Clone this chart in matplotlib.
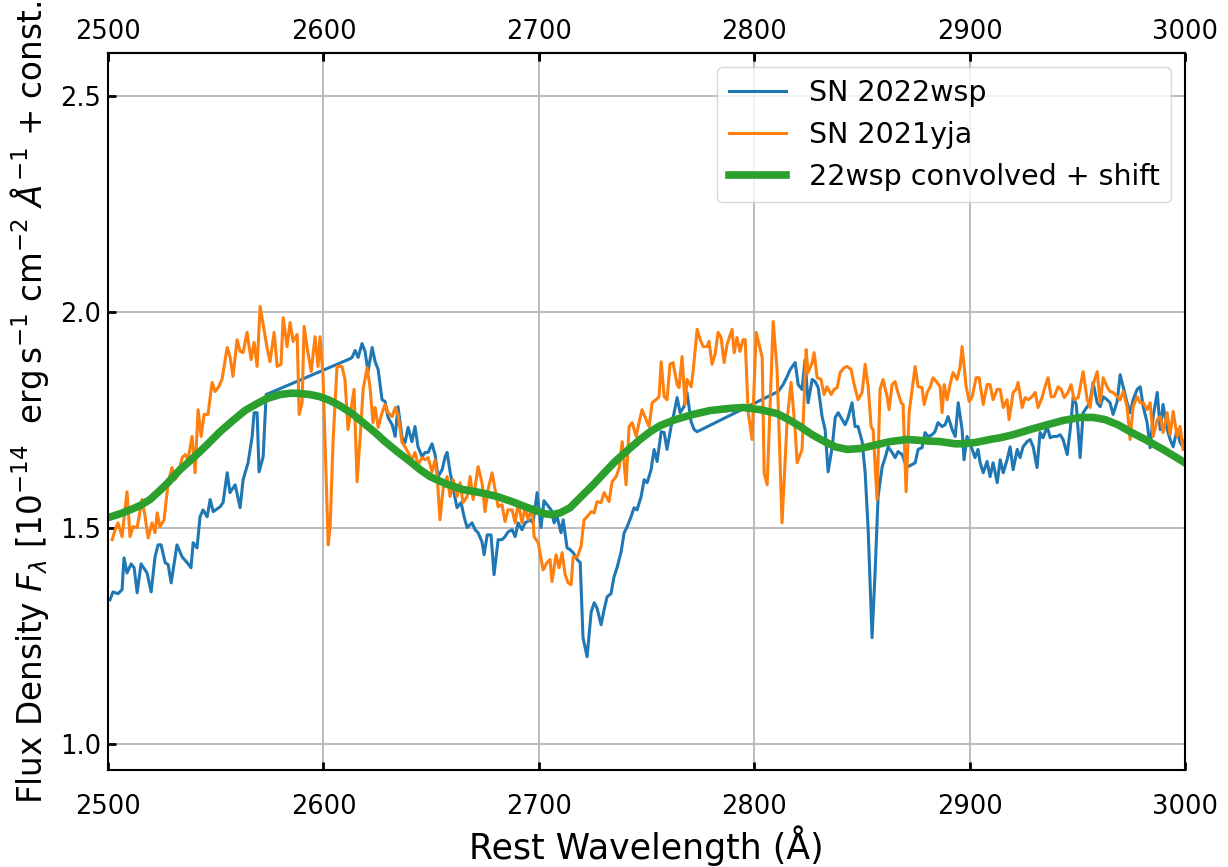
import matplotlib
matplotlib.use("Agg")
import matplotlib.pyplot as plt

# SN 2022wsp (rest wavelength in A, flux + const)
wsp_wave = [
    2500.9, 2502.3, 2504.6, 2506.5, 2507.4, 2508.8, 2510.7, 2512.1, 2513.5, 2515.3,
    2518.1, 2520.0, 2521.8, 2523.2, 2524.6, 2526.5, 2527.9, 2529.3, 2532.0, 2534.4,
    2536.7, 2538.5, 2539.5, 2541.3, 2542.7, 2544.1, 2546.0, 2547.4, 2548.8, 2552.0,
    2553.4, 2555.3, 2556.6, 2559.0, 2561.3, 2562.7, 2565.0, 2566.9, 2567.8, 2569.2,
    2570.1, 2572.0, 2573.4, 2612.4, 2613.3, 2614.7, 2616.1, 2617.9, 2619.3, 2620.7,
    2622.6, 2624.0, 2625.4, 2627.2, 2628.6, 2630.0, 2631.9, 2633.3, 2634.6, 2636.5,
    2637.9, 2639.3, 2641.1, 2642.5, 2643.9, 2645.8, 2647.2, 2648.6, 2650.4, 2651.8,
    2653.2, 2655.1, 2656.5, 2657.4, 2658.8, 2660.6, 2662.0, 2663.9, 2665.3, 2666.7,
    2669.0, 2670.4, 2671.8, 2673.6, 2674.6, 2676.0, 2677.8, 2679.2, 2681.1, 2682.9,
    2684.3, 2685.7, 2687.6, 2689.0, 2690.4, 2692.2, 2693.6, 2696.0, 2697.3, 2699.2,
    2701.0, 2702.4, 2703.8, 2705.7, 2707.1, 2708.5, 2710.3, 2711.3, 2713.1, 2714.5,
    2715.9, 2717.8, 2719.2, 2720.5, 2722.4, 2724.3, 2725.7, 2727.0, 2728.9, 2730.3,
    2731.7, 2733.5, 2734.9, 2736.3, 2738.2, 2739.6, 2741.0, 2742.8, 2744.2, 2745.6,
    2747.5, 2748.9, 2750.3, 2752.1, 2753.5, 2754.9, 2756.8, 2758.2, 2759.5, 2761.4,
    2762.8, 2764.2, 2765.6, 2767.4, 2768.8, 2770.7, 2772.1, 2773.5, 2811.1, 2813.4,
    2815.3, 2816.7, 2819.0, 2820.4, 2822.2, 2823.6, 2825.0, 2826.9, 2828.3, 2829.7,
    2831.5, 2832.9, 2834.3, 2836.2, 2837.6, 2839.0, 2840.8, 2842.2, 2843.6, 2845.4,
    2846.8, 2848.2, 2850.1, 2851.5, 2852.9, 2854.7, 2856.1, 2857.5, 2859.4, 2860.8,
    2862.2, 2864.0, 2865.4, 2866.8, 2868.7, 2870.0, 2871.4, 2873.3, 2874.7, 2876.1,
    2877.9, 2879.3, 2880.7, 2882.6, 2883.9, 2885.3, 2887.2, 2888.6, 2890.0, 2891.9,
    2893.3, 2894.7, 2896.5, 2897.4, 2898.8, 2901.2, 2902.5, 2903.9, 2904.9, 2906.3,
    2908.1, 2909.5, 2910.9, 2912.8, 2914.2, 2915.6, 2917.4, 2918.8, 2920.2, 2922.1,
    2923.4, 2924.8, 2926.7, 2928.1, 2929.5, 2931.3, 2932.7, 2934.1, 2936.0, 2937.4,
    2938.8, 2940.6, 2942.0, 2943.4, 2945.3, 2946.7, 2948.1, 2949.5, 2951.3, 2952.7,
    2954.6, 2955.9, 2957.3, 2959.2, 2960.6, 2962.0, 2963.8, 2965.2, 2966.6, 2968.5,
    2969.9, 2971.3, 2973.1, 2974.5, 2975.9, 2977.8, 2979.2, 2980.6, 2982.4, 2983.8,
    2985.2, 2987.1, 2988.5, 2989.8, 2991.7, 2993.1, 2994.5, 2996.3, 2997.7, 2999.1,
    3000.0,
]
wsp_flux = [
    1.334, 1.352, 1.348, 1.357, 1.431, 1.396, 1.417, 1.408, 1.350, 1.417,
    1.396, 1.352, 1.433, 1.461, 1.461, 1.420, 1.415, 1.373, 1.461, 1.433,
    1.420, 1.408, 1.466, 1.454, 1.526, 1.542, 1.526, 1.566, 1.538, 1.549,
    1.559, 1.628, 1.582, 1.600, 1.547, 1.612, 1.651, 1.712, 1.767, 1.767,
    1.630, 1.665, 1.809, 1.892, 1.895, 1.911, 1.895, 1.927, 1.909, 1.862,
    1.918, 1.885, 1.867, 1.797, 1.793, 1.756, 1.739, 1.712, 1.781, 1.709,
    1.698, 1.733, 1.700, 1.735, 1.688, 1.665, 1.675, 1.675, 1.695, 1.670,
    1.619, 1.635, 1.665, 1.675, 1.630, 1.582, 1.547, 1.559, 1.526, 1.501,
    1.512, 1.496, 1.489, 1.468, 1.438, 1.484, 1.484, 1.392, 1.473, 1.473,
    1.480, 1.491, 1.496, 1.480, 1.512, 1.496, 1.512, 1.519, 1.512, 1.582,
    1.501, 1.563, 1.554, 1.542, 1.512, 1.526, 1.489, 1.519, 1.454, 1.450,
    1.443, 1.427, 1.420, 1.246, 1.202, 1.306, 1.327, 1.315, 1.276, 1.311,
    1.341, 1.348, 1.387, 1.408, 1.445, 1.489, 1.503, 1.526, 1.547, 1.542,
    1.573, 1.612, 1.605, 1.635, 1.682, 1.654, 1.723, 1.721, 1.682, 1.735,
    1.767, 1.802, 1.767, 1.781, 1.814, 1.746, 1.728, 1.723, 1.816, 1.832,
    1.851, 1.867, 1.883, 1.832, 1.821, 1.890, 1.790, 1.844, 1.839, 1.825,
    1.758, 1.728, 1.630, 1.688, 1.756, 1.767, 1.751, 1.739, 1.756, 1.790,
    1.735, 1.735, 1.700, 1.628, 1.496, 1.246, 1.396, 1.573, 1.642, 1.663,
    1.688, 1.675, 1.663, 1.677, 1.670, 1.651, 1.642, 1.647, 1.651, 1.682,
    1.686, 1.721, 1.712, 1.716, 1.723, 1.744, 1.735, 1.739, 1.758, 1.728,
    1.712, 1.790, 1.728, 1.658, 1.712, 1.682, 1.663, 1.682, 1.651, 1.628,
    1.654, 1.619, 1.651, 1.605, 1.658, 1.628, 1.658, 1.688, 1.635, 1.682,
    1.663, 1.688, 1.700, 1.705, 1.688, 1.640, 1.721, 1.709, 1.735, 1.709,
    1.712, 1.712, 1.716, 1.705, 1.670, 1.728, 1.804, 1.786, 1.663, 1.767,
    1.781, 1.790, 1.837, 1.790, 1.781, 1.804, 1.797, 1.790, 1.763, 1.793,
    1.855, 1.827, 1.790, 1.767, 1.797, 1.821, 1.827, 1.781, 1.744, 1.686,
    1.758, 1.814, 1.728, 1.786, 1.728, 1.705, 1.688, 1.728, 1.698, 1.688,
    1.705,
]

# SN 2021yja
yja_wave = [
    2501.9, 2503.3, 2504.6, 2506.5, 2508.8, 2510.2, 2511.6, 2513.5, 2515.8, 2517.2,
    2518.6, 2520.4, 2521.8, 2522.8, 2524.1, 2526.0, 2527.9, 2529.7, 2531.1, 2532.5,
    2534.4, 2535.8, 2537.1, 2539.0, 2540.4, 2541.8, 2543.2, 2544.6, 2546.4, 2548.3,
    2549.7, 2551.1, 2552.9, 2555.3, 2556.6, 2558.0, 2559.9, 2561.3, 2562.7, 2564.5,
    2566.4, 2567.8, 2569.2, 2570.6, 2572.0, 2573.8, 2575.2, 2577.1, 2578.5, 2580.3,
    2581.3, 2583.1, 2584.5, 2585.9, 2587.8, 2588.7, 2590.1, 2591.0, 2592.4, 2594.3,
    2596.1, 2597.5, 2598.4, 2599.8, 2602.2, 2603.1, 2604.5, 2606.3, 2608.6, 2610.0,
    2611.4, 2613.3, 2614.2, 2615.6, 2617.5, 2618.4, 2620.3, 2621.6, 2623.0, 2624.0,
    2625.4, 2627.2, 2628.6, 2630.0, 2631.9, 2633.3, 2634.6, 2636.5, 2637.9, 2639.3,
    2641.1, 2642.5, 2643.9, 2645.8, 2647.2, 2648.6, 2650.4, 2651.8, 2652.8, 2654.1,
    2655.5, 2657.4, 2658.8, 2660.2, 2662.0, 2663.4, 2664.8, 2666.7, 2668.1, 2669.5,
    2671.8, 2673.6, 2675.0, 2676.4, 2678.3, 2679.7, 2681.1, 2682.9, 2684.3, 2685.7,
    2687.6, 2689.0, 2690.4, 2692.2, 2693.6, 2695.0, 2696.9, 2697.8, 2699.7, 2702.0,
    2703.8, 2705.2, 2706.1, 2708.0, 2709.4, 2710.8, 2712.2, 2713.6, 2715.0, 2715.9,
    2717.8, 2719.6, 2721.0, 2722.4, 2724.3, 2725.7, 2727.0, 2728.9, 2730.3, 2732.6,
    2734.0, 2735.9, 2737.3, 2738.7, 2740.5, 2741.9, 2743.3, 2745.2, 2746.5, 2747.9,
    2749.8, 2751.2, 2752.6, 2754.4, 2755.8, 2756.8, 2758.2, 2759.5, 2760.9, 2762.3,
    2764.2, 2765.1, 2766.5, 2767.9, 2768.8, 2770.7, 2771.6, 2773.5, 2774.9, 2776.3,
    2778.1, 2779.0, 2780.4, 2781.8, 2783.2, 2784.6, 2786.0, 2787.4, 2789.7, 2790.7,
    2792.0, 2793.4, 2794.8, 2795.8, 2797.2, 2799.0, 2800.9, 2803.7, 2804.6, 2806.0,
    2808.8, 2810.6, 2812.9, 2815.3, 2817.1, 2819.0, 2819.9, 2822.2, 2824.1, 2825.0,
    2826.9, 2827.8, 2829.2, 2831.0, 2832.4, 2833.8, 2835.7, 2837.1, 2838.5, 2839.9,
    2841.7, 2843.1, 2845.0, 2846.4, 2848.2, 2850.1, 2851.5, 2852.9, 2854.3, 2855.2,
    2857.0, 2858.4, 2859.8, 2861.7, 2862.6, 2864.0, 2865.4, 2866.3, 2868.2, 2869.1,
    2870.5, 2871.9, 2873.8, 2874.7, 2876.1, 2877.9, 2878.9, 2880.3, 2881.7, 2883.0,
    2884.9, 2886.3, 2887.2, 2888.2, 2889.5, 2890.9, 2892.3, 2894.2, 2895.6, 2896.5,
    2898.4, 2899.8, 2901.2, 2903.0, 2904.4, 2906.3, 2908.1, 2909.5, 2910.9, 2912.8,
    2914.2, 2915.6, 2917.4, 2918.3, 2920.2, 2921.6, 2922.5, 2924.4, 2925.8, 2927.2,
    2929.0, 2930.4, 2931.8, 2933.6, 2935.0, 2936.4, 2937.8, 2939.2, 2941.1, 2942.5,
    2943.9, 2945.7, 2947.1, 2948.5, 2950.4, 2952.7, 2954.6, 2955.9, 2957.3, 2959.2,
    2960.6, 2962.0, 2963.8, 2965.2, 2966.6, 2968.5, 2969.9, 2971.3, 2973.1, 2974.5,
    2975.9, 2977.8, 2979.2, 2980.6, 2982.4, 2983.8, 2985.2, 2987.1, 2988.5, 2989.8,
    2991.7, 2993.1, 2994.5, 2996.3, 2997.7, 2999.1,
]
yja_flux = [
    1.473, 1.496, 1.512, 1.480, 1.584, 1.480, 1.503, 1.501, 1.566, 1.526,
    1.477, 1.512, 1.489, 1.535, 1.503, 1.519, 1.605, 1.640, 1.612, 1.624,
    1.663, 1.670, 1.658, 1.712, 1.628, 1.774, 1.712, 1.763, 1.763, 1.837,
    1.816, 1.825, 1.844, 1.918, 1.897, 1.851, 1.936, 1.909, 1.906, 1.953,
    1.890, 1.930, 1.874, 2.013, 1.971, 1.918, 1.885, 1.953, 1.874, 1.879,
    1.987, 1.920, 1.976, 1.932, 1.948, 1.763, 1.790, 1.967, 1.918, 1.862,
    1.943, 1.874, 1.943, 1.851, 1.461, 1.503, 1.705, 1.874, 1.874, 1.844,
    1.728, 1.790, 1.821, 1.607, 1.744, 1.821, 1.871, 1.827, 1.744, 1.779,
    1.733, 1.767, 1.786, 1.767, 1.758, 1.779, 1.763, 1.698, 1.688, 1.675,
    1.658, 1.675, 1.647, 1.663, 1.658, 1.663, 1.630, 1.658, 1.619, 1.519,
    1.589, 1.619, 1.573, 1.612, 1.573, 1.605, 1.559, 1.573, 1.619, 1.566,
    1.642, 1.605, 1.538, 1.589, 1.628, 1.589, 1.549, 1.554, 1.515, 1.542,
    1.542, 1.512, 1.559, 1.512, 1.549, 1.519, 1.549, 1.480, 1.466, 1.403,
    1.420, 1.427, 1.376, 1.438, 1.408, 1.443, 1.392, 1.373, 1.369, 1.433,
    1.433, 1.457, 1.519, 1.526, 1.538, 1.535, 1.561, 1.559, 1.582, 1.561,
    1.607, 1.619, 1.640, 1.700, 1.600, 1.735, 1.744, 1.712, 1.744, 1.774,
    1.751, 1.735, 1.790, 1.797, 1.804, 1.885, 1.804, 1.797, 1.879, 1.883,
    1.832, 1.825, 1.897, 1.786, 1.844, 1.827, 1.862, 1.960, 1.936, 1.920,
    1.920, 1.932, 1.879, 1.902, 1.953, 1.941, 1.883, 1.925, 1.960, 1.906,
    1.941, 1.909, 1.936, 1.936, 1.767, 1.705, 1.953, 1.895, 1.628, 1.600,
    1.978, 1.867, 1.512, 1.751, 1.837, 1.728, 1.651, 1.682, 1.913, 1.860,
    1.883, 1.906, 1.848, 1.844, 1.809, 1.827, 1.809, 1.821, 1.825, 1.860,
    1.871, 1.874, 1.867, 1.832, 1.797, 1.814, 1.879, 1.827, 1.733, 1.728,
    1.566, 1.821, 1.844, 1.804, 1.774, 1.832, 1.839, 1.821, 1.790, 1.786,
    1.584, 1.767, 1.839, 1.874, 1.827, 1.825, 1.786, 1.814, 1.827, 1.848,
    1.837, 1.827, 1.767, 1.832, 1.797, 1.832, 1.860, 1.844, 1.874, 1.920,
    1.827, 1.793, 1.804, 1.848, 1.848, 1.786, 1.832, 1.832, 1.797, 1.821,
    1.821, 1.779, 1.797, 1.751, 1.814, 1.821, 1.837, 1.779, 1.802, 1.797,
    1.804, 1.814, 1.779, 1.802, 1.827, 1.848, 1.804, 1.804, 1.827, 1.821,
    1.802, 1.814, 1.832, 1.797, 1.802, 1.862, 1.797, 1.779, 1.832, 1.862,
    1.790, 1.848, 1.827, 1.816, 1.814, 1.804, 1.797, 1.816, 1.781, 1.705,
    1.781, 1.804, 1.790, 1.790, 1.774, 1.790, 1.712, 1.751, 1.758, 1.721,
    1.767, 1.716, 1.770, 1.712, 1.735, 1.682,
]

# 22wsp convolved + shift
conv_wave = [
    2500.0, 2505.6, 2510.2, 2514.9, 2519.5, 2524.1, 2527.4, 2533.4, 2538.1, 2542.7,
    2547.4, 2552.0, 2558.0, 2563.6, 2569.2, 2573.8, 2579.9, 2584.5, 2587.8, 2593.8,
    2598.4, 2603.1, 2607.7, 2613.3, 2618.4, 2624.0, 2628.6, 2634.2, 2640.2, 2644.9,
    2649.5, 2656.5, 2664.8, 2672.7, 2680.6, 2687.6, 2695.9, 2702.9, 2706.1, 2709.9,
    2714.5, 2719.1, 2725.2, 2730.8, 2735.4, 2741.0, 2747.0, 2751.7, 2756.3, 2763.3,
    2771.6, 2779.5, 2788.8, 2794.8, 2802.7, 2810.6, 2816.7, 2821.3, 2826.9, 2832.0,
    2837.6, 2843.1, 2849.2, 2855.2, 2863.1, 2870.9, 2879.3, 2886.3, 2893.3, 2897.0,
    2902.6, 2909.5, 2914.2, 2920.2, 2928.1, 2936.0, 2943.4, 2951.3, 2957.3, 2962.9,
    2968.9, 2974.5, 2981.5, 2989.8, 2995.4, 3000.0,
]
conv_flux = [
    1.524, 1.533, 1.542, 1.552, 1.566, 1.587, 1.603, 1.635, 1.656, 1.677,
    1.700, 1.723, 1.749, 1.772, 1.788, 1.800, 1.809, 1.812, 1.812, 1.809,
    1.804, 1.795, 1.783, 1.765, 1.744, 1.721, 1.700, 1.677, 1.654, 1.635,
    1.619, 1.603, 1.589, 1.582, 1.573, 1.561, 1.545, 1.533, 1.531, 1.535,
    1.547, 1.570, 1.600, 1.630, 1.654, 1.679, 1.705, 1.723, 1.737, 1.751,
    1.763, 1.772, 1.777, 1.779, 1.774, 1.765, 1.749, 1.735, 1.716, 1.702,
    1.688, 1.682, 1.684, 1.691, 1.700, 1.705, 1.702, 1.700, 1.695, 1.695,
    1.698, 1.705, 1.709, 1.716, 1.728, 1.739, 1.749, 1.756, 1.756, 1.751,
    1.739, 1.723, 1.705, 1.682, 1.665, 1.651,
]

xticks = [2500, 2600, 2700, 2800, 2900, 3000]
yticks = [1.0, 1.5, 2.0, 2.5]

fig = plt.figure(figsize=(12.28, 8.67), dpi=100)
ax = fig.add_axes([0.088, 0.112, 0.877, 0.827])

ax.plot(wsp_wave, wsp_flux, color='#1f77b4', lw=2.2, label='SN 2022wsp')
ax.plot(yja_wave, yja_flux, color='#ff7f0e', lw=2.2, label='SN 2021yja')
ax.plot(conv_wave, conv_flux, color='#2ca02c', lw=5.5, solid_joinstyle='round',
        label='22wsp convolved + shift')

ax.set_xlim(2500, 3000)
ax.set_ylim(0.94, 2.6)
ax.set_xticks(xticks)
ax.set_yticks(yticks)
ax.grid(True, color='#b0b0b0', lw=1.2)

ax.tick_params(axis='both', direction='in', right=False, top=True, labeltop=False,
               length=6, width=2, labelsize=18.5)
ax.tick_params(axis='x', pad=17)
ax.tick_params(axis='y', pad=5)
for s in ax.spines.values():
    s.set_linewidth(1.5)

# top labels with their own (smaller) pad
top = ax.secondary_xaxis('top')
top.set_xticks(xticks)
top.tick_params(direction='in', length=6, width=2, labelsize=18.5, pad=6)
top.spines['top'].set_linewidth(1.5)

ax.set_xlabel('Rest Wavelength (Å)', fontsize=25)
ax.set_ylabel(r'Flux Density $F_\lambda$ [$10^{-14}$  erg$\,$s$^{-1}$ cm$^{-2}$ $Å^{-1}$ + const.',
              fontsize=23.5)
ax.yaxis.set_label_coords(-0.053, 0.513)

ax.legend(loc='upper right', fontsize=20.5)

fig.savefig('out.png', dpi=100)
